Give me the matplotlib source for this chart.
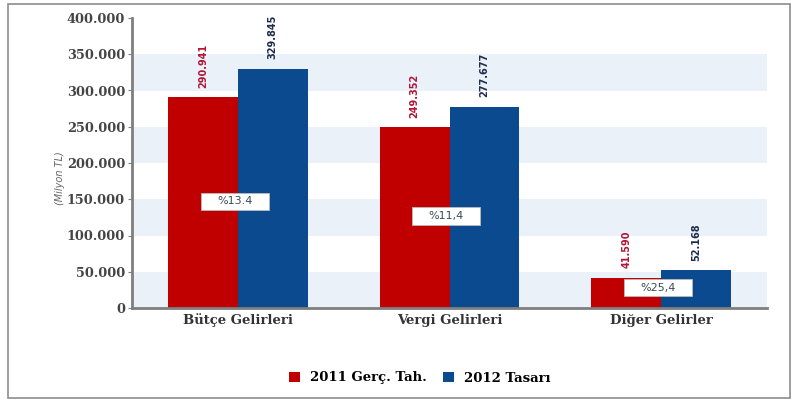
import matplotlib
matplotlib.use("Agg")
import matplotlib.pyplot as plt
from matplotlib.patches import Rectangle

categories = ["Bütçe Gelirleri", "Vergi Gelirleri", "Diğer Gelirler"]
series_names = ["2011 Gerç. Tah.", "2012 Tasarı"]
values_2011 = [290941, 249352, 41590]
values_2012 = [329845, 277677, 52168]
value_labels_2011 = ["290.941", "249.352", "41.590"]
value_labels_2012 = ["329.845", "277.677", "52.168"]
change_labels = ["%13.4", "%11,4", "%25,4"]
change_label_y = [147000, 127000, 28000]
yticks = [0, 50000, 100000, 150000, 200000, 250000, 300000, 350000, 400000]
ytick_labels = ["0", "50.000", "100.000", "150.000", "200.000", "250.000",
                "300.000", "350.000", "400.000"]

RED = "#C00000"
BLUE = "#0B4A8E"
BAND = "#EAF1F9"
AXIS = "#7F7F7F"

fig = plt.figure(figsize=(7.96, 4.03), dpi=100)
fig.patch.set_facecolor("white")

# outer frame
fig.patches.append(Rectangle((8/796, 5/403), 782/796, 394/403, transform=fig.transFigure,
                             fill=False, edgecolor="#8C8C8C", linewidth=1.2))

ax = fig.add_axes([132/796, 1 - 308/403, (767 - 132)/796, (308 - 18)/403])
ax.set_xlim(-0.5, 2.5)
ax.set_ylim(0, 400000)

# background bands
for lo in [0, 100000, 200000, 300000]:
    ax.axhspan(lo, lo + 50000, color=BAND, zorder=0, lw=0)

w = 0.33
x = list(range(len(categories)))
ax.bar([i - w/2 for i in x], values_2011, width=w, color=RED, zorder=2, label=series_names[0])
ax.bar([i + w/2 for i in x], values_2012, width=w, color=BLUE, zorder=2, label=series_names[1])

box_w = 0.32
box_h = 24000
for i in x:
    ax.text(i - w/2, values_2011[i] + 13000, value_labels_2011[i], rotation=90,
            ha="center", va="bottom", fontsize=7, fontweight="bold", color="#B0173A",
            family="DejaVu Sans")
    ax.text(i + w/2, values_2012[i] + 13000, value_labels_2012[i], rotation=90,
            ha="center", va="bottom", fontsize=7, fontweight="bold", color="#1F2D4D",
            family="DejaVu Sans")
    cx = i - 0.015
    ax.add_patch(Rectangle((cx - box_w/2, change_label_y[i] - box_h/2), box_w, box_h,
                           facecolor="white", edgecolor="#BBBBBB", lw=0.6, zorder=4))
    ax.text(cx, change_label_y[i], change_labels[i], ha="center", va="center",
            fontsize=8, color="#3A4A5A", family="DejaVu Sans", zorder=5)

ax.set_yticks(yticks)
ax.set_yticklabels(ytick_labels, family="DejaVu Serif", fontweight="bold",
                   fontsize=9.3, color="#444444")
ax.set_xticks(x)
ax.set_xticklabels(categories, family="DejaVu Serif", fontweight="bold",
                   fontsize=9.5, color="#333333")
ax.tick_params(axis="y", length=3, color=AXIS, pad=2)
ax.tick_params(axis="x", length=0, pad=4)

for s in ["top", "right"]:
    ax.spines[s].set_visible(False)
ax.spines["left"].set_color(AXIS)
ax.spines["left"].set_linewidth(2)
ax.spines["bottom"].set_color(AXIS)
ax.spines["bottom"].set_linewidth(2)

fig.text(60/796, 1 - 178/403, "(Milyon TL)", rotation=90, ha="center", va="center",
         fontsize=7, style="italic", color="#666666", family="DejaVu Sans")

leg = fig.legend(loc="center", bbox_to_anchor=(420/796, 1 - 378/403), ncol=2, frameon=False,
                 prop={"family": "DejaVu Serif", "weight": "bold", "size": 9.5},
                 handlelength=0.8, handleheight=0.8, columnspacing=1.2, handletextpad=0.8)

fig.savefig("out.png", dpi=100, facecolor="white")
